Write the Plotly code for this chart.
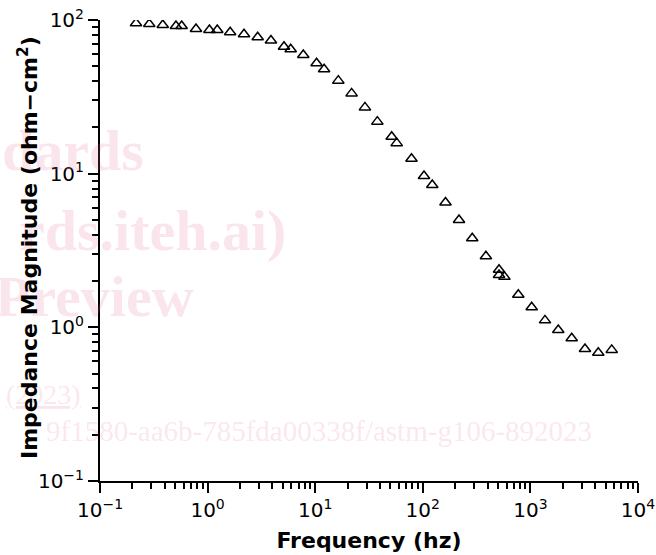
import plotly.graph_objects as go

# Data (frequency in Hz, impedance magnitude in ohm-cm^2)
frequency_hz = [0.216, 0.287, 0.383, 0.508, 0.574, 0.780, 1.04, 1.23, 1.62, 2.18,
                2.92, 3.88, 5.13, 5.92, 7.75, 10.3, 12.1, 16.4, 21.8, 29.0,
                37.8, 51.4, 57.2, 78.5, 102.6, 122.5, 162.5, 217, 288, 386,
                511, 511, 574, 772, 1028, 1367, 1816, 2421, 3216, 4276, 5700]
impedance = [95.2, 94.2, 92.8, 91.4, 91.4, 87.4, 86.1, 86.1, 83.2, 80.7,
             77.2, 73.6, 67.0, 64.5, 59.2, 52.3, 47.8, 40.3, 33.3, 27.0,
             21.8, 17.4, 15.8, 12.5, 9.66, 8.44, 6.50, 5.00, 3.80, 2.90,
             2.37, 2.19, 2.13, 1.63, 1.35, 1.11, 0.962, 0.849, 0.723, 0.684, 0.713]

x_tickvals = [0.1, 1, 10, 100, 1000, 10000]
x_ticktext = ["10<sup>−1</sup>", "10<sup>0</sup>", "10<sup>1</sup>",
              "10<sup>2</sup>", "10<sup>3</sup>", "10<sup>4</sup>"]
y_tickvals = [0.1, 1, 10, 100]
y_ticktext = ["10<sup>−1</sup>", "10<sup>0</sup>", "10<sup>1</sup>", "10<sup>2</sup>"]

x_minor = [m * 10 ** e for e in range(-1, 4) for m in range(2, 10)]
y_minor = [m * 10 ** e for e in range(-1, 2) for m in range(2, 10)]

x_title = "Frequency (hz)"
y_title = "Impedance Magnitude (ohm−cm<sup>2</sup>)"

watermark = ["dards", "rds.iteh.ai)", "Preview", "<u>(2023)</u>",
             "9f1580-aa6b-785fda00338f/astm-g106-892023"]

fig = go.Figure()

wm_color = "rgba(235,110,150,0.18)"
wm_specs = [  # (text, right-edge px, center px, size, bold)
    (watermark[0], 146, 150, 58, True),
    (watermark[1], 288, 230, 58, True),
    (watermark[2], 196, 296, 58, True),
    (watermark[3], 83, 394, 28, False),
    (watermark[4], 594, 431, 29, False),
]
for text, rx, cy, sz, bold in wm_specs:
    fig.add_annotation(
        text=f"<b>{text}</b>" if bold else text, xref="paper", yref="paper",
        x=(rx - 100) / 538, y=(481 - cy) / 461,
        xanchor="right", yanchor="middle", showarrow=False,
        font=dict(family="Liberation Serif", size=sz, color=wm_color),
    )

fig.add_trace(go.Scatter(
    x=frequency_hz, y=impedance, mode="markers",
    marker=dict(symbol="triangle-up-open", size=10, color="black",
                line=dict(color="black", width=1.5)),
    showlegend=False,
))

tickfont = dict(family="DejaVu Sans", size=20, color="black")
titlefont = dict(family="DejaVu Sans", size=22, color="black")

fig.update_xaxes(
    type="log", range=[-1, 4], automargin=False,
    tickmode="array", tickvals=x_tickvals, ticktext=x_ticktext,
    ticks="outside", ticklen=10, tickwidth=2, tickcolor="black",
    minor=dict(tickmode="array", tickvals=x_minor, ticks="outside",
               ticklen=6, tickwidth=2, tickcolor="black", showgrid=False),
    showline=True, linecolor="black", linewidth=2,
    showgrid=False, zeroline=False, tickfont=tickfont,
    title=dict(text=f"<b>{x_title}</b>", font=titlefont, standoff=12),
)
fig.update_yaxes(
    type="log", range=[-1, 2], automargin=False,
    tickmode="array", tickvals=y_tickvals, ticktext=y_ticktext,
    ticks="outside", ticklen=10, tickwidth=2, tickcolor="black",
    minor=dict(tickmode="array", tickvals=y_minor, ticks="outside",
               ticklen=6, tickwidth=2, tickcolor="black", showgrid=False),
    showline=True, linecolor="black", linewidth=2,
    showgrid=False, zeroline=False, tickfont=tickfont,
)

# y-axis title placed as a rotated annotation so it can sit close to the tick labels
fig.add_annotation(
    text=f"<b>{y_title}</b>", xref="paper", yref="paper",
    x=(28 - 100) / 538, y=(481 - 248) / 461,
    xanchor="center", yanchor="middle", textangle=-90, showarrow=False,
    font=titlefont,
)

fig.update_layout(
    width=656, height=555,
    margin=dict(l=100, r=18, t=20, b=74),
    plot_bgcolor="white", paper_bgcolor="white",
)

fig.write_html("out.html")
